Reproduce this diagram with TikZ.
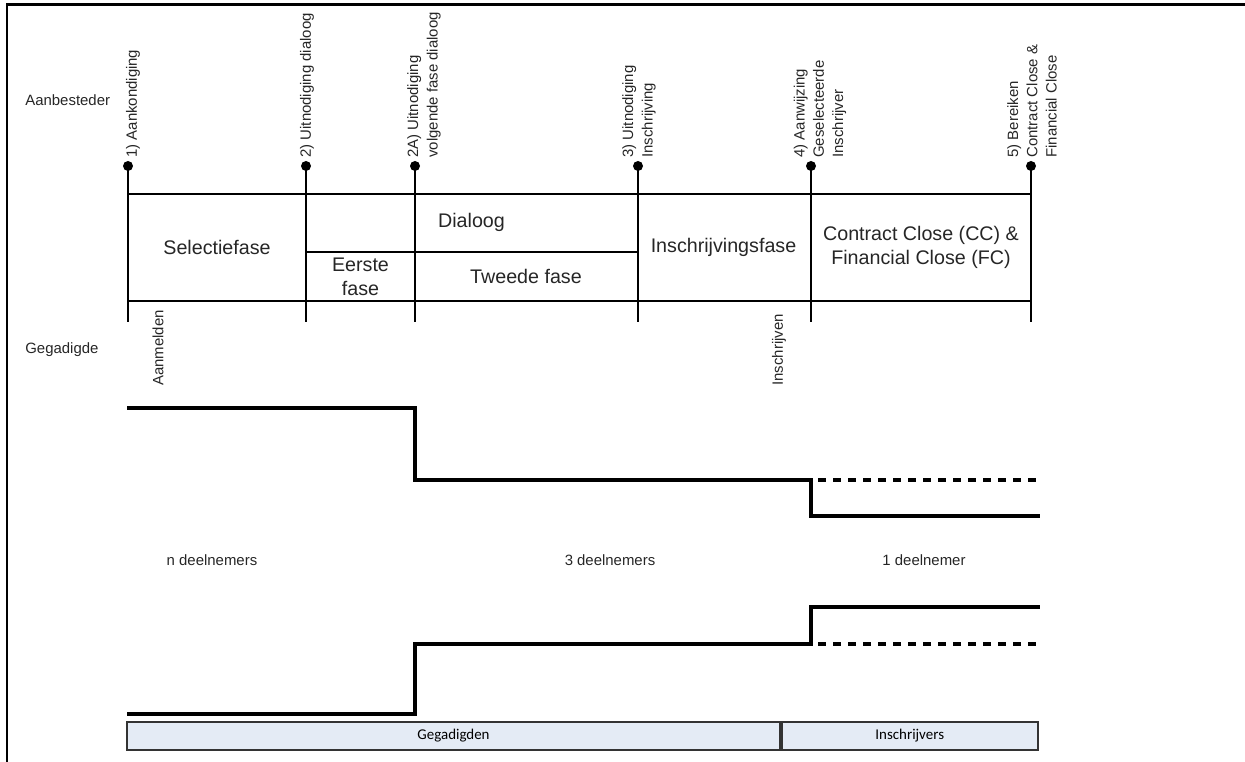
\documentclass[tikz,border=0pt]{standalone}
\usepackage{fontspec}
\setmainfont{Liberation Sans}
\newfontfamily\barfont{Carlito}
\definecolor{barblue}{HTML}{E4EBF5}

\begin{document}
\begin{tikzpicture}[font=\fontsize{8.5}{10.2}\selectfont,
  txt/.style={text=black!85,inner sep=0pt},
  side/.style={txt,rotate=90,anchor=west,align=left,font=\fontsize{8.5}{11}\selectfont},
  phase/.style={txt,align=center,font=\fontsize{11.2}{13.5}\selectfont},
  tick/.style={circle,fill=black,inner sep=0pt,minimum size=0.2cm},
  grid/.style={line width=1pt},
  level/.style={line width=2.8pt},
  option/.style={line width=2.8pt,dash pattern=on 0.16cm off 0.14cm},
  band/.style={draw=black!80,line width=1pt,fill=barblue,minimum height=0.56cm,inner sep=0pt,
    font=\barfont\fontsize{8.5}{10}\selectfont}]
\useasboundingbox (0,0) rectangle (24.90,15.24);
\draw[line width=1.7pt] (0.14,0) -- (0.14,15.14) -- (24.90,15.14);
% roles
\node[txt,anchor=west] (aanb) at (0.50,13.24) {Aanbesteder};
\node[txt,anchor=west] (gegad) at (0.50,8.24) {Gegadigde};
% milestones
\node[tick] (M1) at (2.56,11.92) {};
\node[tick] (M2) at (6.12,11.92) {};
\node[tick] (M2A) at (8.30,11.92) {};
\node[tick] (M3) at (12.76,11.92) {};
\node[tick] (M4) at (16.22,11.92) {};
\node[tick] (M5) at (20.62,11.92) {};
\draw[grid] (M1.center) -- ++(0,-3.12);
\draw[grid] (M2.center) -- ++(0,-3.12);
\draw[grid] (M2A.center) -- ++(0,-3.12);
\draw[grid] (M3.center) -- ++(0,-3.12);
\draw[grid] (M4.center) -- ++(0,-3.12);
\draw[grid] (M5.center) -- ++(0,-3.12);
\node[side] (L1) at (2.66,12.08) {1) Aankondiging};
\node[side] (L2) at (6.14,12.08) {2) Uitnodiging dialoog};
\node[side] (L2A) at (8.48,12.08) {2A) Uitnodiging\\volgende fase dialoog};
\node[side] (L3) at (12.78,12.08) {3) Uitnodiging\\Inschrijving};
\node[side] (L4) at (16.40,12.08) {4) Aanwijzing\\Geselecteerde\\Inschrijver};
\node[side] (L5) at (20.64,12.08) {5) Bereiken\\Contract Close \&\\Financial Close};
% phases
\draw[grid] (2.56,11.36) -- (20.62,11.36);
\draw[grid] (6.12,10.20) -- (12.76,10.20);
\draw[grid] (2.56,9.22) -- (20.62,9.22);
\node[phase] (selectie) at (4.34,10.29) {Selectiefase};
\node[phase] (dialoog) at (9.43,10.80) {Dialoog};
\node[phase] (eerste) at (7.21,9.71) {Eerste\\fase};
\node[phase] (tweede) at (10.52,9.71) {Tweede fase};
\node[phase] (inschr) at (14.47,10.29) {Inschrijvingsfase};
\node[phase] (close) at (18.42,10.29) {Contract Close (CC) \&\\Financial Close (FC)};
\node[side] (aanmeld) at (3.16,7.52) {Aanmelden};
\node[side] (inschrijv) at (15.58,7.52) {Inschrijven};
% deelnemers
\draw[level] (2.54,7.08) -- (8.30,7.08) -- (8.30,5.64) -- (16.22,5.64) -- (16.22,4.92) -- (20.80,4.92);
\draw[option] (16.36,5.64) -- (20.86,5.64);
\draw[level] (2.54,0.96) -- (8.30,0.96) -- (8.30,2.36) -- (16.22,2.36) -- (16.22,3.10) -- (20.80,3.10);
\draw[option] (16.36,2.36) -- (20.86,2.36);
\node[txt] (ndeel) at (4.24,4.04) {n deelnemers};
\node[txt] (drie) at (12.20,4.04) {3 deelnemers};
\node[txt] (een) at (18.48,4.04) {1 deelnemer};
% onderbalk
\node[band,minimum width=13.06cm] (gegadigden) at (9.07,0.52) {Gegadigden};
\node[band,minimum width=5.12cm,anchor=west] (inschrijvers) at (gegadigden.east) {Inschrijvers};
\end{tikzpicture}
\end{document}
